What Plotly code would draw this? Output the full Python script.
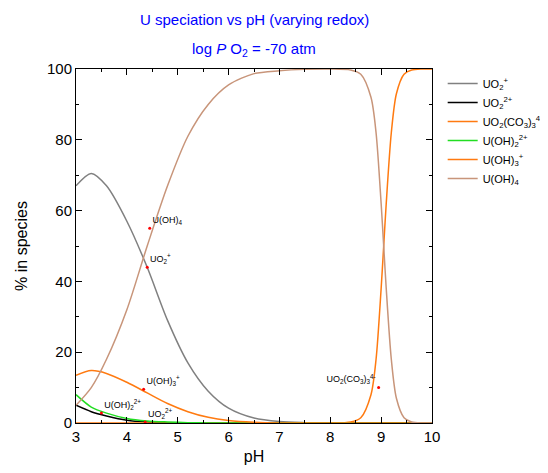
import plotly.graph_objects as go

ph = [3.0, 3.3, 3.6, 4.0, 4.4, 4.8, 5.2, 5.6, 6.0, 6.5, 7.0, 7.5, 8.0, 8.4, 8.6, 8.8, 8.9, 9.0, 9.05, 9.1, 9.2, 9.3, 9.45, 9.6, 9.8, 10.0]
uo2p   = [67, 70.5, 67, 57, 44, 29, 17, 9, 4.2, 1.4, 0.4, 0.1, 0, 0, 0, 0, 0, 0, 0, 0, 0, 0, 0, 0, 0, 0]
uo22p  = [5, 3.2, 2, 0.8, 0.3, 0.1, 0, 0, 0, 0, 0, 0, 0, 0, 0, 0, 0, 0, 0, 0, 0, 0, 0, 0, 0, 0]
carb   = [0, 0, 0, 0, 0, 0, 0, 0, 0, 0, 0, 0, 0, 0.3, 1.5, 8, 18, 38, 50, 62, 82, 93, 98.5, 99.7, 100, 100]
uoh2   = [8, 4.5, 2.8, 1.3, 0.6, 0.3, 0.1, 0, 0, 0, 0, 0, 0, 0, 0, 0, 0, 0, 0, 0, 0, 0, 0, 0, 0, 0]
uoh3   = [13.5, 14.8, 14, 11.5, 8.5, 5.5, 3.2, 1.6, 0.7, 0.2, 0, 0, 0, 0, 0, 0, 0, 0, 0, 0, 0, 0, 0, 0, 0, 0]
uoh4   = [5, 10, 18, 32, 50, 67, 81, 90, 95.5, 98.7, 99.5, 99.9, 100, 99.7, 98.5, 92, 82, 62, 50, 38, 18, 7, 1.5, 0.3, 0, 0]

names = ["UO<sub>2</sub><sup>+</sup>", "UO<sub>2</sub><sup>2+</sup>", "UO<sub>2</sub>(CO<sub>3</sub>)<sub>3</sub><sup>4-</sup>",
         "U(OH)<sub>2</sub><sup>2+</sup>", "U(OH)<sub>3</sub><sup>+</sup>", "U(OH)<sub>4</sub>"]
series = [uo2p, uo22p, carb, uoh2, uoh3, uoh4]
colors = ["#808080", "#000000", "#ff7a10", "#22dd22", "#ff7a10", "#c8957a"]

lab_x = [4.4, 4.36, 8.95, 3.5, 4.33, 4.45]
lab_y = [44, 0.3, 10, 2.8, 9.5, 55]
lab_t = ["UO<sub>2</sub><sup>+</sup>", "UO<sub>2</sub><sup>2+</sup>", "UO<sub>2</sub>(CO<sub>3</sub>)<sub>3</sub><sup>4-</sup>",
         "U(OH)<sub>2</sub><sup>2+</sup>", "U(OH)<sub>3</sub><sup>+</sup>", "U(OH)<sub>4</sub>"]
lab_pos = ["top right", "top right", "top left", "top right", "top right", "top right"]

fig = go.Figure()
for n, s, c in zip(names, series, colors):
    fig.add_trace(go.Scatter(x=ph, y=s, name=n, mode="lines", line=dict(color=c, width=1.5, shape="spline", smoothing=0.8)))
fig.add_trace(go.Scatter(x=lab_x, y=lab_y, mode="markers+text", text=lab_t, textposition=lab_pos,
                         marker=dict(color="red", size=3), textfont=dict(size=9, color="black"), showlegend=False))

axis = dict(showgrid=False, zeroline=False, showline=True, linecolor="black", mirror="ticks",
            ticks="inside", ticklen=6, tickcolor="black", tickfont=dict(size=15, color="black"))
fig.update_layout(
    width=548, height=473, plot_bgcolor="white", paper_bgcolor="white",
    font=dict(family="Liberation Sans, Arial", color="black"),
    margin=dict(l=68, r=124, t=61, b=58, autoexpand=False),
    xaxis=dict(axis, range=[3, 10], dtick=1, title=dict(text="pH", font=dict(size=16), standoff=6),
               minor=dict(ticks="inside", ticklen=3, dtick=0.5, tickcolor="black")),
    yaxis=dict(axis, range=[0, 100], dtick=20, title=dict(text="% in species", font=dict(size=16)),
               minor=dict(ticks="inside", ticklen=3, dtick=10, tickcolor="black")),
    legend=dict(x=1.03, y=1.0, yanchor="top", font=dict(size=11), tracegroupgap=0, itemwidth=30),
    annotations=[
        dict(text="U speciation vs pH (varying redox)", xref="paper", yref="paper", x=0.5, y=1.0, yshift=50,
             showarrow=False, font=dict(size=15, color="#0000ff"), xanchor="center", yanchor="middle"),
        dict(text="log <i>P</i> O<sub>2</sub> = -70 atm", xref="paper", yref="paper", x=0.5, y=1.0, yshift=20,
             showarrow=False, font=dict(size=15, color="#0000ff"), xanchor="center", yanchor="middle"),
    ],
)
fig.write_html("out.html")
